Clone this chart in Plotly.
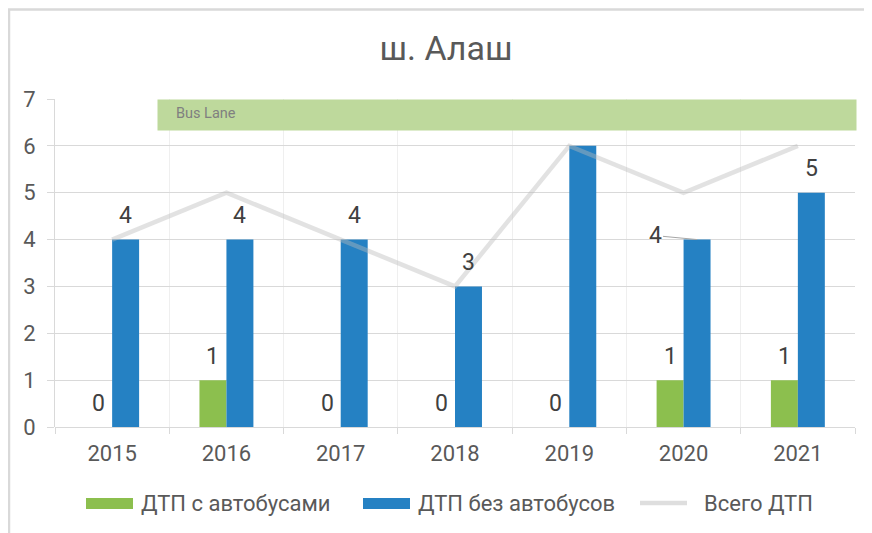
import plotly.graph_objects as go

years = ["2015", "2016", "2017", "2018", "2019", "2020", "2021"]
with_bus = [0, 1, 0, 0, 0, 1, 1]
without_bus = [4, 4, 4, 3, 6, 4, 5]
total = [4, 5, 4, 3, 6, 5, 6]
series_names = ["ДТП с автобусами", "ДТП без автобусов", "Всего ДТП"]
title_text = "ш. Алаш"
bus_lane_text = "Bus Lane"
bus_lane_start = 0.39  # category-axis position where Bus Lane starts

GREEN = "#8cbf4e"
BLUE = "#2581c3"
LINE = "rgba(185,185,185,0.42)"
FONT = "Roboto"
TICK_COLOR = "#595959"
LABEL_COLOR = "#404040"
GRID = "#d9d9d9"

# page geometry (the page body adds an 8px offset, compensated here)
OFF = 8
PAGE_W, PAGE_H = 872, 533
W, H = PAGE_W - OFF, PAGE_H - OFF
PL, PT, PW, PH = 55, 99, 800, 328          # plot area in page pixels
ML, MT = PL - OFF, PT - OFF
MR = W - ML - PW
MB = H - MT - PH
PLOT_BOTTOM = PT + PH
BARGAP = 0.528
half = (1 - BARGAP) / 4


def px(x):
    return (x - PL) / PW


def py(y):
    return (PLOT_BOTTOM - y) / PH


fig = go.Figure()
fig.add_trace(go.Bar(x=years, y=with_bus, name=series_names[0], marker_color=GREEN,
                     marker_line_width=0))
fig.add_trace(go.Bar(x=years, y=without_bus, name=series_names[1], marker_color=BLUE,
                     marker_line_width=0))
fig.add_trace(go.Scatter(x=years, y=total, name=series_names[2], mode="lines",
                         line=dict(color=LINE, width=4.5)))

label_font = dict(family=FONT, size=23, color=LABEL_COLOR)
annotations = []
for i, v in enumerate(with_bus):
    annotations.append(dict(x=i - half, y=v, xref="x", yref="y", text=str(v),
                            showarrow=False, yshift=24, yanchor="middle",
                            font=label_font))
for i, v in enumerate(without_bus):
    if years[i] == "2020":
        annotations.append(dict(x=i + half, y=v, xref="x", yref="y", text=str(v),
                                showarrow=True, ax=-42, ay=-4, arrowhead=0,
                                arrowwidth=1, arrowcolor="#a6a6a6", standoff=0,
                                font=label_font))
    else:
        annotations.append(dict(x=i + half, y=v, xref="x", yref="y", text=str(v),
                                showarrow=False, yshift=24, yanchor="middle",
                                font=label_font))

# Bus Lane box (drawn after labels so it covers anything beneath)
annotations.append(dict(x=bus_lane_start, y=7, xref="x", yref="y", xanchor="left",
                        yanchor="top", text=" ", showarrow=False,
                        width=855 - 157, height=30, borderpad=0,
                        bgcolor="#bed99c"))
annotations.append(dict(x=bus_lane_start + 0.15, y=6.68, xref="x", yref="y",
                        xanchor="left", yanchor="middle", text=bus_lane_text,
                        showarrow=False,
                        font=dict(family=FONT, size=14.5, color="#808080")))

# custom legend
shapes = []
leg_y = py(503)
legend_items = [
    (series_names[0], GREEN, 86, 139, "bar"),
    (series_names[1], BLUE, 363, 416, "bar"),
    (series_names[2], "#dedede", 640, 702, "line"),
]
for name, col, sx, tx, kind in legend_items:
    if kind == "bar":
        shapes.append(dict(type="rect", xref="paper", yref="paper", x0=px(sx),
                           x1=px(sx + 47), y0=py(509), y1=py(498), fillcolor=col,
                           line_width=0))
    else:
        shapes.append(dict(type="line", xref="paper", yref="paper", x0=px(sx),
                           x1=px(sx + 47), y0=leg_y, y1=leg_y,
                           line=dict(color=col, width=4.5)))
    annotations.append(dict(x=px(tx), y=leg_y, xref="paper", yref="paper",
                            xanchor="left", yanchor="middle", text=name,
                            showarrow=False,
                            font=dict(family=FONT, size=22, color=TICK_COLOR)))

# outer chart border (top and left edges visible)
shapes.append(dict(type="line", xref="paper", yref="paper", x0=px(9), x1=px(9),
                   y0=py(9), y1=py(600), line=dict(color=GRID, width=2.5)))
shapes.append(dict(type="line", xref="paper", yref="paper", x0=px(8), x1=px(900),
                   y0=py(9.5), y1=py(9.5), line=dict(color=GRID, width=2.5)))

fig.update_layout(
    width=W, height=H,
    margin=dict(l=ML, r=MR, t=MT, b=MB),
    paper_bgcolor="white", plot_bgcolor="white",
    barmode="group", bargap=BARGAP, bargroupgap=0,
    showlegend=False,
    title=dict(text=title_text, x=(446 - OFF) / W, xref="container",
               y=1 - (48 - OFF) / H, yanchor="middle", xanchor="center",
               font=dict(family=FONT, size=34, color=TICK_COLOR)),
    font=dict(family=FONT, color=TICK_COLOR),
    annotations=annotations,
    shapes=shapes,
    xaxis=dict(type="category", tickson="boundaries", ticks="outside", ticklen=6,
               tickcolor=GRID, showgrid=True, gridcolor="#efefef",
               showline=False, zeroline=False, ticklabelstandoff=11,
               tickfont=dict(family=FONT, size=22, color=TICK_COLOR),
               range=[-0.5, 6.5]),
    yaxis=dict(range=[0, 7], dtick=1, ticks="outside", ticklen=7, tickcolor=GRID,
               showgrid=True, gridcolor=GRID, gridwidth=1, zeroline=True,
               zerolinecolor=GRID, zerolinewidth=1, showline=True,
               linecolor=GRID, linewidth=1, ticklabelstandoff=7,
               tickfont=dict(family=FONT, size=22, color=TICK_COLOR)),
)

fig.write_html("out.html")
